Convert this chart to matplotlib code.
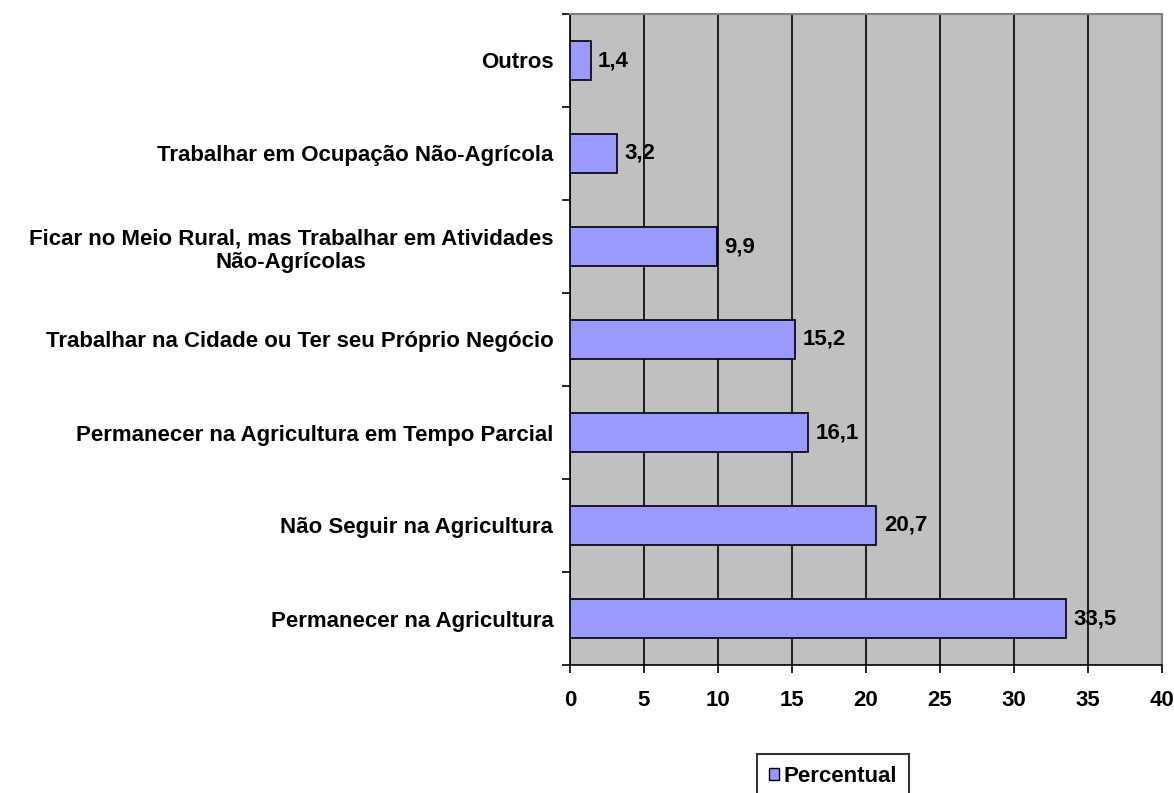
import numpy as np
import matplotlib
matplotlib.use('Agg')
import matplotlib.pyplot as plt
from matplotlib.patches import Patch

plt.rcParams['font.family'] = ['Liberation Sans', 'DejaVu Sans']
plt.rcParams['font.weight'] = 'bold'

categorias = ['Permanecer na Agricultura',
              'Não Seguir na Agricultura',
              'Permanecer na Agricultura em Tempo Parcial',
              'Trabalhar na Cidade ou Ter seu Próprio Negócio',
              'Ficar no Meio Rural, mas Trabalhar em Atividades\nNão-Agrícolas',
              'Trabalhar em Ocupação Não-Agrícola',
              'Outros']
percentual = [33.5, 20.7, 16.1, 15.2, 9.9, 3.2, 1.4]
rotulos = ['33,5', '20,7', '16,1', '15,2', '9,9', '3,2', '1,4']
xticks = [0, 5, 10, 15, 20, 25, 30, 35, 40]

fs = 16

fig = plt.figure(figsize=(11.74, 7.93), dpi=100)
# area do grafico: x 570..1162, y 14..665 (pixels)
ax = fig.add_axes([570 / 1174, 1 - 665 / 793, 592 / 1174, 651 / 793])
ax.set_facecolor('#c0c0c0')

y = np.arange(len(categorias))
ax.barh(y, percentual, height=0.41, color='#9999ff', edgecolor='black', linewidth=1.2, zorder=3)
for yi, v, r in zip(y, percentual, rotulos):
    ax.text(v + 0.5, yi, r, va='center', ha='left', fontsize=fs, fontweight='bold', zorder=4)

ax.set_xlim(0, 40)
ax.set_ylim(-0.5, len(categorias) - 0.5)
ax.set_xticks(xticks)
ax.set_xticklabels([str(t) for t in xticks], fontsize=fs, fontweight='bold')
ax.xaxis.grid(True, color='black', linewidth=1.2, zorder=1)
ax.set_axisbelow(True)

ax.set_yticks(y)
ax.set_yticklabels(categorias, fontsize=fs, fontweight='bold', ha='right',
                   multialignment='center', linespacing=1.2)
ax.tick_params(axis='y', length=0, pad=12)
ax.set_yticks(np.arange(-0.5, len(categorias), 1), minor=True)
ax.tick_params(axis='y', which='minor', length=6, width=1.2, direction='out')
ax.tick_params(axis='x', length=6, width=1.2, direction='out', pad=12)

for s in ['top', 'right']:
    ax.spines[s].set_color('#808080')
    ax.spines[s].set_linewidth(1.5)
ax.spines['left'].set_linewidth(1.2)
ax.spines['bottom'].set_linewidth(1.2)

leg = fig.legend(handles=[Patch(facecolor='#9999ff', edgecolor='black', label='Percentual')],
                 loc='upper left', bbox_to_anchor=(757 / 1174, 1 - 754 / 793),
                 fontsize=fs, frameon=True, fancybox=False, handlelength=0.45, handleheight=0.45,
                 handletextpad=0.2, borderpad=0.55, borderaxespad=0)
leg.get_frame().set_edgecolor('black')
leg.get_frame().set_linewidth(1.5)

fig.savefig('out.png', dpi=100)
